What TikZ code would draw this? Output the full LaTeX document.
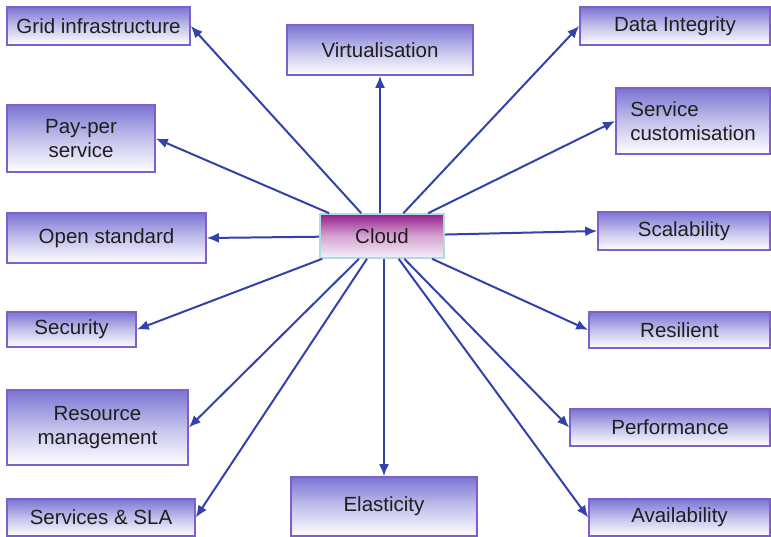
\documentclass[tikz,border=0pt]{standalone}
\usepackage{fontspec}
\setmainfont{Liberation Sans}
\usetikzlibrary{arrows.meta}
\definecolor{boxtop}{RGB}{122,116,210}
\definecolor{boxline}{RGB}{125,95,205}
\definecolor{cloudtop}{RGB}{148,28,140}
\definecolor{cloudbot}{RGB}{245,240,250}
\definecolor{cloudline}{RGB}{175,220,228}
\definecolor{arrowcol}{RGB}{50,66,170}
\tikzset{
  featbox/.style={draw=boxline, line width=1.6pt, top color=boxtop, bottom color=white,
    middle color=boxtop!45!white, font=\fontsize{20.5}{24}\selectfont, text=black!88,
    inner sep=0pt, align=center},
  hubbox/.style={draw=cloudline, line width=1.6pt, top color=cloudtop, bottom color=cloudbot,
    middle color=cloudtop!40!white, font=\fontsize{20.5}{24}\selectfont, text=black!88,
    inner sep=0pt, minimum width=124pt, minimum height=44pt},
  spoke/.style={draw=arrowcol, line width=2pt, -{Latex[length=12pt,width=10pt]}}
}
\begin{document}
\begin{tikzpicture}[x=1pt,y=-1pt]
\useasboundingbox (0,0) rectangle (771,537);
% centre
\node[hubbox] (cloud) at (382,236) {Cloud};
% left column
\node[featbox, minimum width=183pt, minimum height=38pt] (grid) at (98.5,26) {Grid infrastructure};
\node[featbox, minimum width=148pt, minimum height=67pt] (pay) at (81,138.5) {Pay-per\\service};
\node[featbox, minimum width=199pt, minimum height=50pt] (open) at (106.5,238) {Open standard};
\node[featbox, minimum width=129pt, minimum height=35pt] (sec) at (71.5,329.5) {Security};
\node[featbox, minimum width=181pt, minimum height=75pt] (rm) at (97.5,427.5) {Resource\\management};
\node[featbox, minimum width=188pt, minimum height=37pt] (sla) at (101,517.5) {Services \& SLA};
% middle column
\node[featbox, minimum width=186pt, minimum height=50pt] (virt) at (380,50) {Virtualisation};
\node[featbox, minimum width=186pt, minimum height=59pt] (elas) at (384,506.5) {Elasticity};
% right column
\node[featbox, minimum width=190pt, minimum height=38pt] (data) at (675,26) {Data Integrity};
\node[featbox, minimum width=154pt, minimum height=66pt, align=left] (svc) at (693,121) {Service\\customisation};
\node[featbox, minimum width=172pt, minimum height=38pt] (scal) at (684,231) {Scalability};
\node[featbox, minimum width=181pt, minimum height=36pt] (res) at (679.5,330) {Resilient};
\node[featbox, minimum width=200pt, minimum height=37pt] (perf) at (670,427.5) {Performance};
\node[featbox, minimum width=181pt, minimum height=37pt] (avail) at (679.5,517.5) {Availability};
% spokes
\draw[spoke] (cloud) -- (grid.east);
\draw[spoke] (cloud) -- (pay.east);
\draw[spoke] (cloud) -- (open.east);
\draw[spoke] (cloud) -- (sec.east);
\draw[spoke] (cloud) -- (rm.east);
\draw[spoke] (cloud) -- (sla.east);
\draw[spoke] (cloud.north -| virt.south) -- (virt.south);
\draw[spoke] (cloud.south -| elas.north) -- (elas.north);
\draw[spoke] (cloud) -- (data.west);
\draw[spoke] (cloud) -- (svc.west);
\draw[spoke] (cloud) -- (scal.west);
\draw[spoke] (cloud) -- (res.west);
\draw[spoke] (cloud) -- (perf.west);
\draw[spoke] (cloud) -- (avail.west);
\end{tikzpicture}
\end{document}
